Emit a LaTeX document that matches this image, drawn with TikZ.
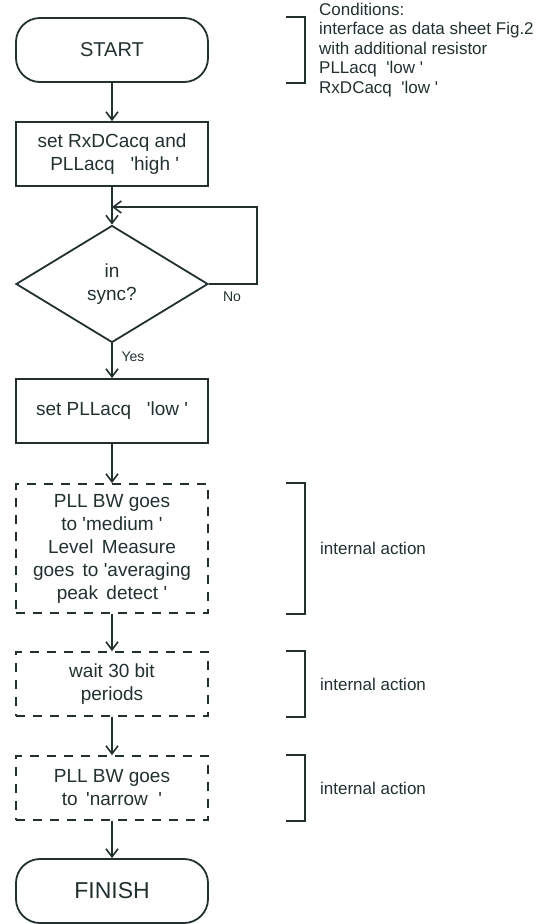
\documentclass[tikz,border=0pt]{standalone}
\usepackage{fontspec}
\setmainfont{Liberation Sans}
\usetikzlibrary{arrows.meta,shapes.geometric}
\definecolor{ink}{RGB}{34,48,48}
\newcommand\sq{\textquotesingle}
\begin{document}
\begin{tikzpicture}[x=1pt,y=-1pt,
  every node/.style={text=ink},
  flow/.style={draw=ink, line width=1.8pt, minimum width=192pt, minimum height=64pt, inner sep=0pt, align=center, font=\fontsize{19}{23}\selectfont},
  term/.style={flow, rounded corners=24pt},
  proc/.style={flow},
  act/.style={flow, dash pattern=on 9pt off 8pt},
  dec/.style={flow, diamond, minimum width=192pt, minimum height=117pt},
  arr/.style={draw=ink, line width=1.6pt, -{Straight Barb[length=8pt,width=12pt]}},
  brk/.style={draw=ink, line width=1.3pt},
  note/.style={font=\fontsize{17}{19.5}\selectfont, align=left, anchor=west, inner sep=0pt},
  lab/.style={font=\fontsize{14}{16}\selectfont, inner sep=0pt}
]
\useasboundingbox (0,0) rectangle (544,924);
\node[term, font=\fontsize{20}{23}\selectfont] (start) at (112,50) {START};
\node[proc] (b1) at (112,154) {set RxDCacq and\\\ PLLacq\ \ \ \sq high\ \sq};
\node[dec] (dia) at (112,284) {in\\sync?};
\node[proc] (b3) at (112,411) {set PLLacq\ \ \ \sq low\ \sq};
\node[act, minimum height=129pt] (b4) at (112,548.5) {PLL BW goes\\to \sq medium\ \sq\\Level\ \,Measure\\goes\ \,to \sq averaging\\peak\ \,detect\ \sq};
\node[act] (b5) at (112,684) {wait 30 bit\\periods};
\node[act] (b6) at (112,788) {PLL BW goes\\to\ \,\sq narrow\ \ \sq};
\node[term, font=\fontsize{23}{26}\selectfont] (fin) at (112,891) {FINISH};

\coordinate (loopc) at (257,207);
\coordinate (join) at (112,207);

\draw[arr] (start) -- (b1);
\draw[arr] (b1) -- (dia);
\draw[arr] (dia.east) -| (loopc) -- (join);
\draw[arr] (dia) -- (b3);
\draw[arr] (b3) -- (b4);
\draw[arr] (b4) -- (b5);
\draw[arr] (b5) -- (b6);
\draw[arr] (b6) -- (fin);

\node[lab] (no) at (232,297) {No};
\node[lab] (yes) at (133,357) {Yes};

\draw[brk] ([xshift=77pt]start.north east) -| ([xshift=96pt]start.south east) -- ([xshift=77pt]start.south east);
\node[note] (cond) at (319,50) {Conditions:\\interface as data sheet Fig.2\\with additional resistor\\PLLacq\ \ \sq low\ \sq\\RxDCacq\ \ \sq low\ \sq};

\draw[brk] ([xshift=77pt]b4.north east) -| ([xshift=96pt]b4.south east) -- ([xshift=77pt]b4.south east);
\node[note] (ia1) at ([xshift=111pt]b4.east) {internal action};
\draw[brk] ([xshift=77pt]b5.north east) -| ([xshift=96pt]b5.south east) -- ([xshift=77pt]b5.south east);
\node[note] (ia2) at ([xshift=111pt]b5.east) {internal action};
\draw[brk] ([xshift=77pt]b6.north east) -| ([xshift=96pt]b6.south east) -- ([xshift=77pt]b6.south east);
\node[note] (ia3) at ([xshift=111pt]b6.east) {internal action};
\end{tikzpicture}
\end{document}
